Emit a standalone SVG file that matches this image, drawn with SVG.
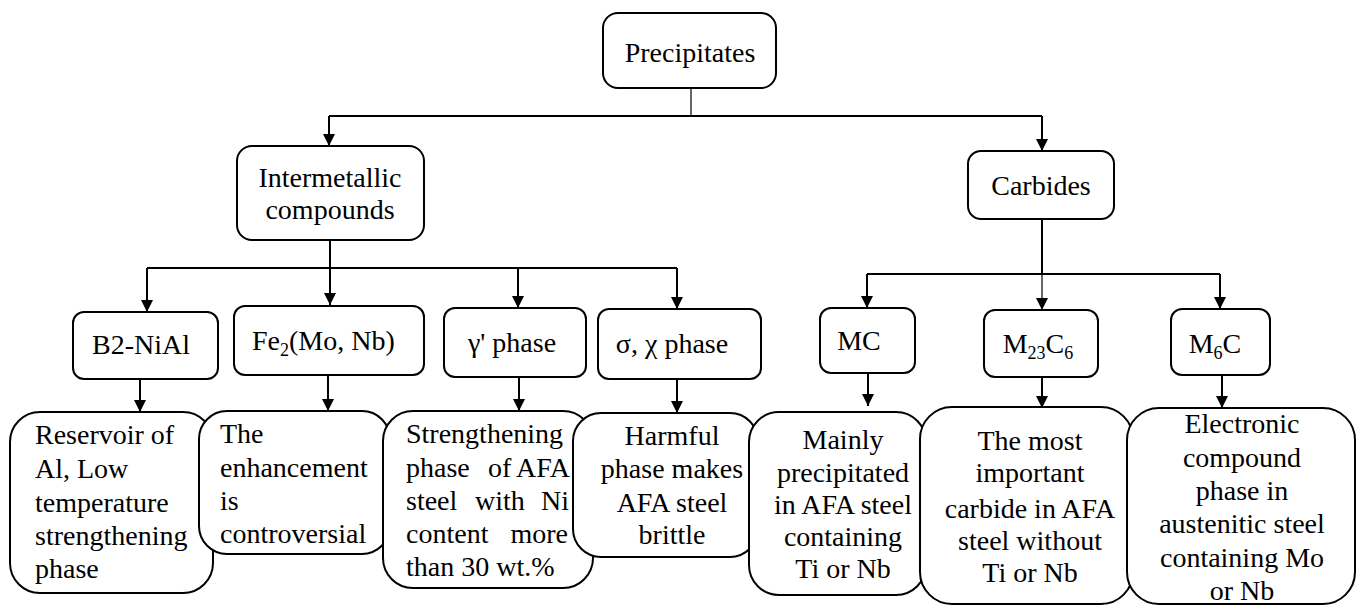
<svg xmlns="http://www.w3.org/2000/svg" width="1359" height="606" viewBox="0 0 1359 606">
<style>
.box{fill:#fff;stroke:#000;stroke-width:2}
.t{font-family:"Liberation Serif","Times New Roman",serif;font-size:28px;fill:#000}
.c{text-anchor:middle}
.e{text-anchor:end}
.ln{fill:none;stroke:#000;stroke-width:2}
.thin{fill:none;stroke:#000;stroke-width:1.2}
</style>
<defs>
<marker id="ah" markerUnits="userSpaceOnUse" markerWidth="12" markerHeight="12" viewBox="0 0 12 12" refX="12" refY="6" orient="auto">
<path d="M0,0 L12,6 L0,12 Z" fill="#000"/>
</marker>
</defs>
<rect width="1359" height="606" fill="#fff"/>
<g id="connectors">
<line class="thin" x1="691" y1="88" x2="691" y2="116"/>
<line class="ln" x1="329" y1="116" x2="1042" y2="116"/>
<line class="ln" x1="329" y1="116" x2="329" y2="146" marker-end="url(#ah)"/>
<line class="ln" x1="1042" y1="116" x2="1042" y2="151" marker-end="url(#ah)"/>
<line class="ln" x1="330" y1="240" x2="330" y2="305" marker-end="url(#ah)"/>
<line class="ln" x1="147" y1="268" x2="677" y2="268"/>
<line class="ln" x1="147" y1="268" x2="147" y2="312" marker-end="url(#ah)"/>
<line class="ln" x1="518" y1="268" x2="518" y2="308" marker-end="url(#ah)"/>
<line class="ln" x1="677" y1="268" x2="677" y2="309" marker-end="url(#ah)"/>
<line class="ln" x1="1042" y1="219" x2="1042" y2="274"/>
<line class="ln" x1="867" y1="274" x2="1220" y2="274"/>
<line class="ln" x1="867" y1="274" x2="867" y2="308" marker-end="url(#ah)"/>
<line class="thin" x1="1042" y1="274" x2="1042" y2="310" marker-end="url(#ah)"/>
<line class="ln" x1="1220" y1="274" x2="1220" y2="309" marker-end="url(#ah)"/>
<line class="ln" x1="140" y1="379" x2="140" y2="412" marker-end="url(#ah)"/>
<line class="ln" x1="328" y1="375" x2="328" y2="411" marker-end="url(#ah)"/>
<line class="ln" x1="519" y1="377" x2="519" y2="411" marker-end="url(#ah)"/>
<line class="ln" x1="677" y1="379" x2="677" y2="413" marker-end="url(#ah)"/>
<line class="ln" x1="868" y1="373" x2="868" y2="406" marker-end="url(#ah)"/>
<line class="ln" x1="1042" y1="377" x2="1042" y2="408" marker-end="url(#ah)"/>
<line class="ln" x1="1222" y1="375" x2="1222" y2="408" marker-end="url(#ah)"/>
</g>
<g id="precipitates">
<rect class="box" x="603" y="13" width="173" height="75" rx="15"/>
<text class="t c" x="690" y="62">Precipitates</text>
</g>
<g id="intermetallic">
<rect class="box" x="237" y="146" width="187" height="94" rx="15"/>
<text class="t c" x="330" y="187">Intermetallic</text>
<text class="t c" x="330" y="219">compounds</text>
</g>
<g id="carbides">
<rect class="box" x="968" y="151" width="146" height="68" rx="13"/>
<text class="t c" x="1041" y="195">Carbides</text>
</g>
<g id="b2nial">
<rect class="box" x="73" y="312" width="145" height="67" rx="11"/>
<text class="t c" x="141" y="354">B2-NiAl</text>
</g>
<g id="fe2">
<rect class="box" x="234" y="306" width="190" height="69" rx="11"/>
<text class="t" x="252" y="350">Fe<tspan font-size="18" dy="6">2</tspan><tspan dy="-6">(Mo, Nb)</tspan></text>
</g>
<g id="gamma">
<rect class="box" x="444" y="308" width="142" height="69" rx="11"/>
<text class="t c" x="512" y="352">γ' phase</text>
</g>
<g id="sigma">
<rect class="box" x="598" y="309" width="163" height="70" rx="11"/>
<text class="t c" x="672" y="353">σ, χ phase</text>
</g>
<g id="mc">
<rect class="box" x="820" y="308" width="95" height="65" rx="11"/>
<text class="t c" x="859" y="350">MC</text>
</g>
<g id="m23c6">
<rect class="box" x="984" y="310" width="114" height="67" rx="11"/>
<text class="t c" x="1038" y="353">M<tspan font-size="18" dy="6">23</tspan><tspan dy="-6">C</tspan><tspan font-size="18" dy="6">6</tspan></text>
</g>
<g id="m6c">
<rect class="box" x="1171" y="309" width="99" height="66" rx="11"/>
<text class="t c" x="1215" y="353">M<tspan font-size="18" dy="6">6</tspan><tspan dy="-6">C</tspan></text>
</g>
<g id="desc-b2">
<rect class="box" x="10" y="412" width="203" height="181" rx="30"/>
<text class="t" x="35" y="444">Reservoir of</text>
<text class="t" x="35" y="478">Al, Low</text>
<text class="t" x="35" y="512">temperature</text>
<text class="t" x="35" y="545">strengthening</text>
<text class="t" x="35" y="578">phase</text>
</g>
<g id="desc-fe2">
<rect class="box" x="199" y="411" width="191" height="143" rx="28"/>
<text class="t" x="220" y="443">The</text>
<text class="t" x="220" y="477">enhancement</text>
<text class="t" x="220" y="510">is</text>
<text class="t" x="220" y="543">controversial</text>
</g>
<g id="desc-gamma">
<rect class="box" x="383" y="411" width="210" height="177" rx="30"/>
<text class="t" x="406" y="443">Strengthening</text>
<text class="t" x="406" y="477">phase</text>
<text class="t" x="488" y="477">of</text>
<text class="t e" x="570" y="477">AFA</text>
<text class="t" x="406" y="510">steel</text>
<text class="t" x="475" y="510">with</text>
<text class="t e" x="569" y="510">Ni</text>
<text class="t" x="406" y="543">content</text>
<text class="t e" x="568" y="543">more</text>
<text class="t" x="406" y="576">than 30 wt.%</text>
</g>
<g id="desc-sigma">
<rect class="box" x="573" y="413" width="185" height="144" rx="28"/>
<text class="t c" x="672" y="445">Harmful</text>
<text class="t c" x="672" y="478">phase makes</text>
<text class="t c" x="672" y="512">AFA steel</text>
<text class="t c" x="672" y="544">brittle</text>
</g>
<g id="desc-mc">
<rect class="box" x="749" y="412" width="177" height="183" rx="30"/>
<text class="t c" x="843" y="449">Mainly</text>
<text class="t c" x="843" y="482">precipitated</text>
<text class="t c" x="843" y="514">in AFA steel</text>
<text class="t c" x="843" y="546">containing</text>
<text class="t c" x="843" y="578">Ti or Nb</text>
</g>
<g id="desc-m23c6">
<rect class="box" x="920" y="407" width="213" height="197" rx="32"/>
<text class="t c" x="1030" y="450">The most</text>
<text class="t c" x="1030" y="482">important</text>
<text class="t c" x="1030" y="518">carbide in AFA</text>
<text class="t c" x="1030" y="550">steel without</text>
<text class="t c" x="1030" y="582">Ti or Nb</text>
</g>
<g id="desc-m6c">
<rect class="box" x="1127" y="408" width="228" height="196" rx="32"/>
<text class="t c" x="1242" y="433">Electronic</text>
<text class="t c" x="1242" y="467">compound</text>
<text class="t c" x="1242" y="500">phase in</text>
<text class="t c" x="1242" y="533">austenitic steel</text>
<text class="t c" x="1242" y="567">containing Mo</text>
<text class="t c" x="1242" y="600">or Nb</text>
</g>
</svg>
